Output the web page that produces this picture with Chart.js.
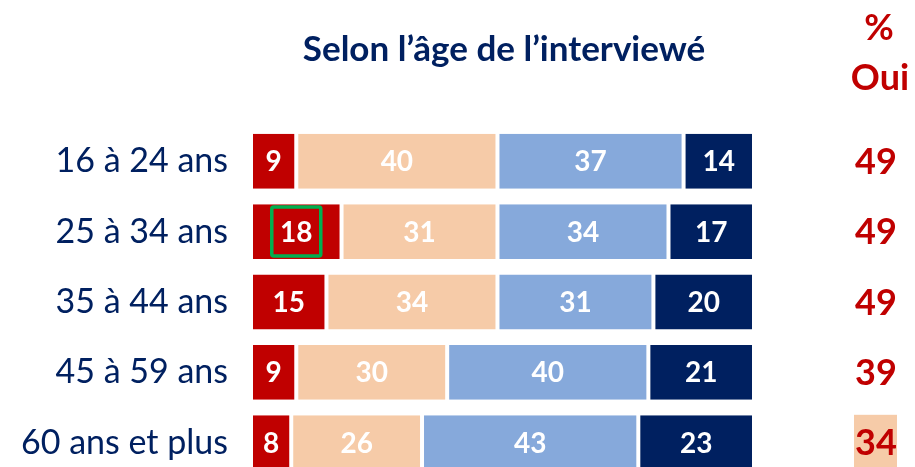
<!DOCTYPE html>
<html>
<head>
<meta charset="utf-8">
<script src="https://cdn.jsdelivr.net/npm/chart.js@4"></script>
<style>
  html, body { margin: 0; padding: 0; background: #fff; overflow: hidden; }
  #wrap { width: 915px; height: 480px; }
</style>
</head>
<body>
<div id="wrap"><canvas id="age-chart" width="915" height="480"></canvas></div>
<script>
// Catégories et valeurs (en %)
const categories = ['16 à 24 ans', '25 à 34 ans', '35 à 44 ans', '45 à 59 ans', '60 ans et plus'];
const ouiTout = [9, 18, 15, 9, 8];        // rouge
const ouiPlutot = [40, 31, 34, 30, 26];   // orange clair
const nonPlutot = [37, 34, 31, 40, 43];   // bleu clair
const nonTout = [14, 17, 20, 21, 23];     // bleu foncé
const pctOui = [49, 49, 49, 39, 34];      // colonne "% Oui"

const navy = '#002060';
const red = '#C00000';
const peach = '#F6CBA8';

function serie(label, values, color) {
  return {
    label: label,
    data: values,
    backgroundColor: color,
    borderColor: '#ffffff',
    borderWidth: { left: 2, right: 2, top: 0, bottom: 0 },
    borderSkipped: false,
    barPercentage: 0.78,
    categoryPercentage: 1
  };
}

// textes, colonne de droite et encadrés
const decor = {
  id: 'decor',
  afterDatasetsDraw(chart) {
    const ctx = chart.ctx;
    const yScale = chart.scales.y;
    ctx.save();
    ctx.textAlign = 'center';
    ctx.textBaseline = 'middle';

    // étiquettes dans les barres
    ctx.font = "bold 28px Lato";
    ctx.fillStyle = '#ffffff';
    chart.data.datasets.forEach((ds, i) => {
      chart.getDatasetMeta(i).data.forEach((bar, j) => {
        ctx.fillText(ds.data[j], (bar.x + bar.base) / 2, bar.y + 1);
      });
    });

    // encadré vert autour de 18
    const b = chart.getDatasetMeta(0).data[1];
    const cx = (b.x + b.base) / 2;
    ctx.strokeStyle = '#00B050';
    ctx.lineWidth = 3.5;
    ctx.beginPath();
    ctx.roundRect(cx - 24.5, b.y - 24.5, 49, 49, 2);
    ctx.stroke();

    // titre
    ctx.fillStyle = navy;
    ctx.font = "bold 35px Lato";
    ctx.fillText('Selon l\u2019âge de l\u2019interviewé', 504, 50);

    // colonne % Oui
    ctx.fillStyle = red;
    ctx.font = "bold 36px Lato";
    ctx.fillText('%', 879, 28);
    ctx.fillText('Oui', 880, 78);
    pctOui.forEach((v, j) => {
      const y = yScale.getPixelForValue(j);
      if (j === pctOui.length - 1) {
        ctx.fillStyle = peach;
        ctx.fillRect(854, y - 28, 43, 56);
        ctx.fillStyle = red;
      }
      ctx.fillText(v, 876, y + 1);
    });
    ctx.restore();
  }
};

const ctx = document.getElementById('age-chart').getContext('2d');
const chart = new Chart(ctx, {
  type: 'bar',
  data: {
    labels: categories,
    datasets: [
      serie('Oui, tout à fait', ouiTout, red),
      serie('Oui, plutôt', ouiPlutot, peach),
      serie('Non, plutôt pas', nonPlutot, '#86A9DB'),
      serie('Non, pas du tout', nonTout, navy)
    ]
  },
  options: {
    indexAxis: 'y',
    responsive: false,
    animation: false,
    devicePixelRatio: 1,
    layout: { padding: { top: 126, bottom: 2, left: 0, right: 161 } },
    plugins: {
      legend: { display: false },
      tooltip: { enabled: false }
    },
    scales: {
      x: {
        stacked: true,
        min: 0,
        max: 100,
        display: false
      },
      y: {
        stacked: true,
        grid: { display: false, drawTicks: false },
        border: { display: false },
        ticks: {
          color: navy,
          padding: 23,
          font: { family: 'Lato', size: 34 }
        },
        afterFit(scale) {
          scale.width = 251;
          scale.paddingTop = 0;
          scale.paddingBottom = 0;
        }
      }
    }
  },
  plugins: [decor]
});
</script>
</body>
</html>
